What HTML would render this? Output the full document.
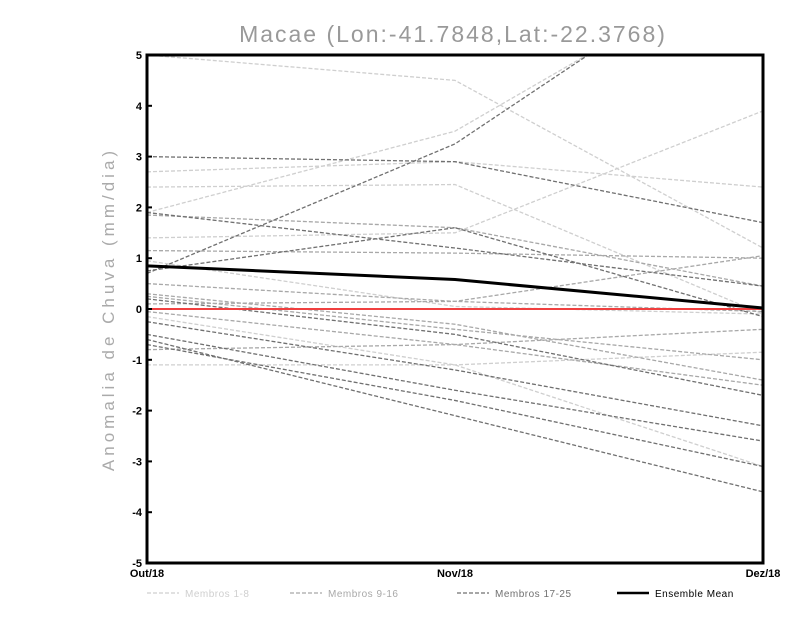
<!DOCTYPE html>
<html><head><meta charset="utf-8"><style>
body{margin:0;background:#fff;width:800px;height:618px;overflow:hidden;font-family:"Liberation Sans",sans-serif}
</style></head><body>
<svg id="chart" width="800" height="618" xmlns="http://www.w3.org/2000/svg">
<text x="453" y="42" text-anchor="middle" font-size="23" fill="#999" font-family="Liberation Sans, sans-serif" letter-spacing="2">Macae (Lon:-41.7848,Lat:-22.3768)</text>
<text transform="translate(114,309) rotate(-90)" text-anchor="middle" font-size="17" fill="#aaa" letter-spacing="4">Anomalia de Chuva (mm/dia)</text>
<g id="plot"></g>
</svg>
<script>
const categories=["Out/18","Nov/18","Dez/18"];
const yTicks=[5,4,3,2,1,0,-1,-2,-3,-4,-5];
const members1to8=[[5.0,4.5,1.2],[1.9,3.5,7.0],[2.4,2.45,-0.1],[2.7,2.9,2.4],[1.4,1.5,3.9],[0.95,0.05,-0.1],[-1.1,-1.1,-0.85],[-0.15,-1.1,-3.1]];
const members9to16=[[1.15,1.1,1.0],[0.1,0.15,1.05],[0.5,0.15,-0.05],[-0.8,-0.7,-0.4],[0.25,-0.4,-1.0],[-0.05,-0.7,-1.5],[1.85,1.6,0.45],[0.3,-0.3,-1.4]];
const members17to25=[[0.7,3.25,7.3],[3.0,2.9,1.7],[1.9,1.2,0.45],[0.75,1.6,-0.15],[0.2,-0.5,-1.7],[-0.25,-1.2,-2.3],[-0.6,-2.1,-3.6],[-0.7,-1.8,-3.1],[-0.5,-1.6,-2.6]];
const ensembleMean=[0.85,0.58,0.02];
const X0=147,X1=763,Y0=55,Y1=563;
const xs=i=>X0+(X1-X0)*i/(categories.length-1);
const ys=v=>Y1-(v+5)/10*(Y1-Y0);
const NS="http://www.w3.org/2000/svg";
const g=document.getElementById('plot');
function mk(t,a){const e=document.createElementNS(NS,t);for(const k in a)e.setAttribute(k,a[k]);g.appendChild(e);return e;}
const cp=mk('clipPath',{id:'cp'});
const r=document.createElementNS(NS,'rect');r.setAttribute('x',X0);r.setAttribute('y',Y0);r.setAttribute('width',X1-X0);r.setAttribute('height',Y1-Y0);cp.appendChild(r);
function series(arr,color,name){arr.forEach((s,k)=>{const p=mk('polyline',{points:s.map((v,i)=>xs(i)+','+ys(v)).join(' '),fill:'none',stroke:color,'stroke-width':1.3,'stroke-dasharray':'4,2','clip-path':'url(#cp)'});

});}
series(members1to8,'#cfcfcf','member-1-8');
series(members9to16,'#a8a8a8','member-9-16');
series(members17to25,'#707070','member-17-25');
const zl=mk('line',{x1:X0,x2:X1,y1:ys(0),y2:ys(0),stroke:'#f04040','stroke-width':2});


const em=mk('polyline',{points:ensembleMean.map((v,i)=>xs(i)+','+ys(v)).join(' '),fill:'none',stroke:'#000','stroke-width':3});


const fr=mk('rect',{x:X0,y:Y0,width:X1-X0,height:Y1-Y0,fill:'none',stroke:'#000','stroke-width':3});


yTicks.forEach(v=>{const t=mk('line',{x1:X0,x2:X0+5,y1:ys(v),y2:ys(v),stroke:'#000','stroke-width':2});


const l=mk('text',{x:X0-5,y:ys(v)+4,'text-anchor':'end','font-size':11,'font-weight':'bold',fill:'#000'});l.textContent=v;

});
categories.forEach((c,i)=>{const l=mk('text',{x:xs(i),y:577,'text-anchor':'middle','font-size':11,'font-weight':'bold',fill:'#000'});l.textContent=c;

});
const leg=[["Membros 1-8",'#cfcfcf',147,'4,2',1.3],["Membros 9-16",'#a8a8a8',290,'4,2',1.3],["Membros 17-25",'#707070',457,'4,2',1.3],["Ensemble Mean",'#000',617,'',2.5]];
leg.forEach(([t,c,x,d,w])=>{const ln=mk('line',{x1:x,x2:x+32,y1:593,y2:593,stroke:c,'stroke-width':w,'stroke-dasharray':d});


const tx=mk('text',{x:x+38,y:597,'font-size':10,fill:c==='#000'?'#000':c,'letter-spacing':'0.5'});tx.textContent=t;

});
</script>
</body></html>
